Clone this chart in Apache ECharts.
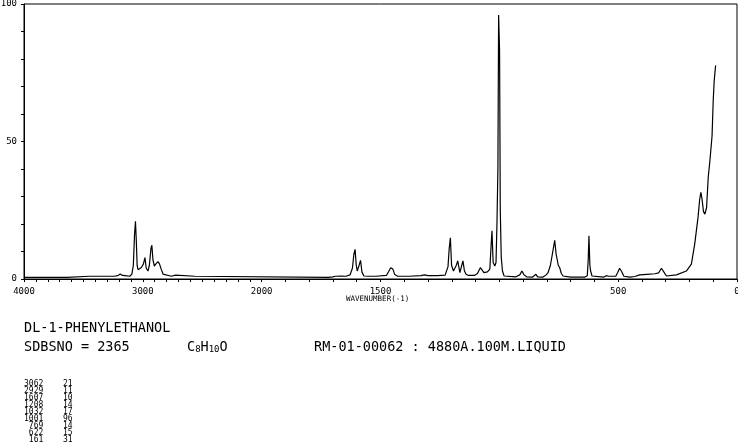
<!DOCTYPE html>
<html>
<head>
<meta charset="utf-8">
<script src="https://cdn.jsdelivr.net/npm/echarts@6/dist/echarts.min.js"></script>
<style>
html,body{margin:0;padding:0;background:#fff;}
#chart{width:738px;height:447px;}
</style>
</head>
<body>
<div id="chart"></div>
<script>
// Spectrum (wavenumber in cm-1, relative intensity)
const wavenumbers = [4000,3640,3632,3450,3440,3425,3240,3225,3212,3190,3172,3150,3110,3092,3080,3070,3062,3055,3048,3040,3027,3012,2995,2982,2972,2957,2945,2932,2924,2915,2903,2890,2873,2860,2845,2830,2817,2760,2725,2710,2560,2552,
1720,1700,1690,1665,1645,1628,1618,1612,1607,1602,1598,1590,1584,1578,1570,1545,1520,1475,1465,1457,1448,1440,1428,1380,1330,1315,1300,1260,1228,1216,1211,1206,1201,1193,1181,1175,1166,1158,1153,1147,1140,1130,1105,1092,1080,1072,1065,1050,1040,1036,1031,1026,1019,1014,1010,1006,1003,999,996,992,987,980,930,914,905,896,885,860,852,846,839,816,803,795,785,775,767,761,752,746,739,732,700,640,630,626,623,619,616,610,560,550,545,540,510,502,494,486,476,450,430,410,380,345,330,318,308,297,255,213,192,178,164,157,152,147,141,135,128,121,114,105,100,96,90];
const intensities = [0.6,0.6,1.0,1.0,1.3,1.0,1.0,1.7,1.2,1.8,1.3,1.2,1.0,1.8,5,16,21,14,5,3.4,3.5,4.2,5.5,7.8,4,2.9,5,11,12.3,7,4.7,5.5,6.3,5.5,3.5,1.8,1.1,1.0,1.4,1.0,1.0,0.6,
0.6,0.8,1.0,1.1,1.0,1.5,4,9,10.8,5,2.9,5,6.8,2.5,1.1,1.0,1.0,1.3,2.8,4.1,3.6,1.6,1.0,1.0,1.2,1.5,1.2,1.2,1.4,4.5,11,15,5,2.9,5,6.6,2.3,5,6.6,3,1.7,1.3,1.3,2,4.1,3.2,2.3,2.6,3.6,10,17.5,6,4.7,6,20,40,96,83,25,8,3,1.1,0.8,1.5,2.9,1.5,0.8,0.7,1.3,1.7,0.8,0.7,1.5,2.3,5,10,14.1,9,5,4.1,2,1.1,0.7,0.7,1.2,7,15.7,5,2.9,1.1,0.7,1.2,1.5,1.0,1.0,2.4,3.9,2.8,1.0,0.7,0.9,1.5,1.7,1.9,2.2,3.9,2.6,1.1,1.5,2.9,5.4,12.7,22.4,29,31.5,29,24.5,23.6,26,37,43,52,65,72,77.7];

const xTickLabels = [4000,3000,2000,1500,500,0];
const yTickLabels = [0,50,100];
const peakWavenumbers = [3062,2929,1607,1208,1032,1001,769,622,161];
const peakIntensities = [21,11,10,14,17,96,14,15,31];

const titleText = 'DL-1-PHENYLETHANOL';
const sdbsText = 'SDBSNO = 2365';
const measureText = 'RM-01-00062 : 4880A.100M.LIQUID';
const axisNameText = 'WAVENUMBER(-1)';

// Scale change at 2000 cm-1: 4000-2000 compressed by half
function toU(w){ return w >= 2000 ? (4000 - w) / 2 : 1000 + (2000 - w); }
function fromU(u){ return u <= 1000 ? 4000 - 2*u : 2000 - (u - 1000); }

const seriesData = wavenumbers.map((w,i)=>[toU(w), intensities[i]]);
const tickVals = [];
for (let w = 4000; w >= 0; w -= 100) tickVals.push(toU(w));

const MONO = '"DejaVu Sans Mono", "Liberation Mono", monospace';

const tableGraphics = [];
peakWavenumbers.forEach((w,i)=>{
  const y = 384 + i*7;
  tableGraphics.push({type:'text', left:24, top:y-4, style:{text:String(w).padStart(4,' '), font:'8px '+MONO, fill:'#000'}});
  tableGraphics.push({type:'text', left:63, top:y-4, style:{text:String(peakIntensities[i]), font:'8px '+MONO, fill:'#000'}});
});

const chart = echarts.init(document.getElementById('chart'), null, {renderer:'canvas'});
chart.setOption({
  animation:false,
  backgroundColor:'#fff',
  grid:{left:24, top:4, width:713, height:275, show:true, borderColor:'#000', borderWidth:1, containLabel:false, outerBoundsMode:'none'},
  xAxis:{
    type:'value', min:0, max:3000,
    axisLine:{show:true, onZero:false, lineStyle:{color:'#000', width:1}},
    axisTick:{show:true, inside:false, length:3, customValues:tickVals, lineStyle:{color:'#000'}},
    axisLabel:{show:true, customValues:xTickLabels.map(toU), formatter:(v)=>String(Math.round(fromU(v))), color:'#000', fontFamily:MONO, fontSize:9, margin:8, showMinLabel:true, showMaxLabel:true, hideOverlap:false},
    splitLine:{show:false}
  },
  yAxis:{
    type:'value', min:0, max:100, interval:10,
    axisLine:{show:true, lineStyle:{color:'#000', width:1}},
    axisTick:{show:true, inside:false, length:3, lineStyle:{color:'#000'}},
    axisLabel:{show:true, customValues:yTickLabels, color:'#000', fontFamily:MONO, fontSize:9, margin:7, showMinLabel:true, showMaxLabel:true},
    splitLine:{show:false}
  },
  series:[{
    type:'line', data:seriesData, showSymbol:false, symbol:'none',
    lineStyle:{color:'#000', width:1.2}, clip:true
  }],
  graphic:[
    {type:'text', left:346, top:295, style:{text:axisNameText, font:'7.5px '+MONO, fill:'#000'}},
    {type:'text', left:24, top:321, style:{text:titleText, font:'13.5px '+MONO, fill:'#000'}},
    {type:'text', left:24, top:340, style:{text:sdbsText, font:'13.5px '+MONO, fill:'#000'}},
    {type:'text', left:187, top:340, style:{
      text:'C{s|8}H{s|10}O', font:'13.5px '+MONO, fill:'#000',
      rich:{s:{fontFamily:MONO, fontSize:9, fill:'#000', padding:[6,0,0,0]}}
    }},
    {type:'text', left:314, top:340, style:{text:measureText, font:'13.5px '+MONO, fill:'#000'}}
  ].concat(tableGraphics)
});
</script>
</body>
</html>
